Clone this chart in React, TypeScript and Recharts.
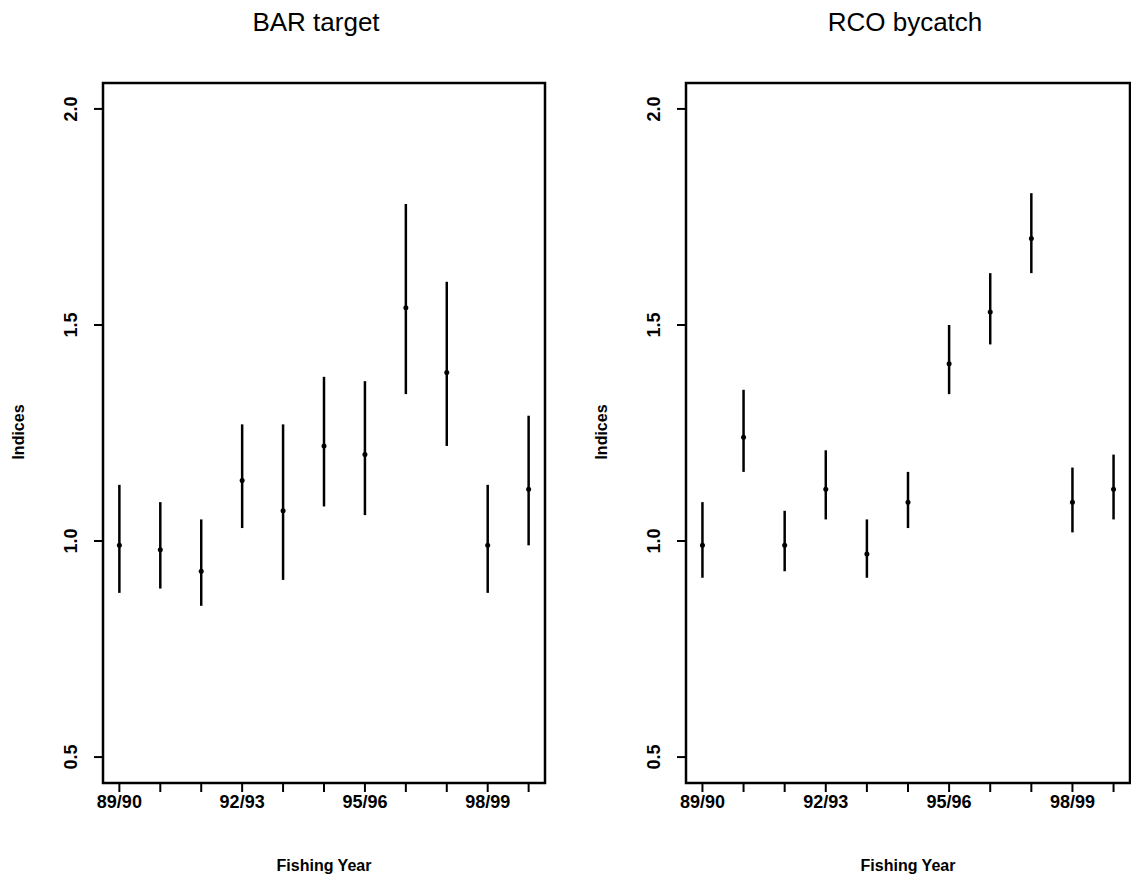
import React from 'react';
import { ScatterChart, Scatter, XAxis, YAxis, ErrorBar, ReferenceArea } from 'recharts';

const YEARS = ['89/90', '90/91', '91/92', '92/93', '93/94', '94/95', '95/96', '96/97', '97/98', '98/99', '99/00'];
const LABELLED_YEARS = ['89/90', '92/93', '95/96', '98/99'];
const Y_TICKS = [0.5, 1.0, 1.5, 2.0];

const BAR_MID = [0.99, 0.98, 0.93, 1.14, 1.07, 1.22, 1.2, 1.54, 1.39, 0.99, 1.12];
const BAR_LOW = [0.88, 0.89, 0.85, 1.03, 0.91, 1.08, 1.06, 1.34, 1.22, 0.88, 0.99];
const BAR_HIGH = [1.13, 1.09, 1.05, 1.27, 1.27, 1.38, 1.37, 1.78, 1.6, 1.13, 1.29];

const RCO_MID = [0.99, 1.24, 0.99, 1.12, 0.97, 1.09, 1.41, 1.53, 1.7, 1.09, 1.12];
const RCO_LOW = [0.915, 1.16, 0.93, 1.05, 0.915, 1.03, 1.34, 1.455, 1.62, 1.02, 1.05];
const RCO_HIGH = [1.09, 1.35, 1.07, 1.21, 1.05, 1.16, 1.5, 1.62, 1.805, 1.17, 1.2];

const W = 1131;
const H = 880;
const FONT = '"Liberation Sans", Arial, sans-serif';
const BOX_TOP = 83;
const BOX_BOTTOM = 783;
const X_DOMAIN = [0.6, 11.4];
const Y_DOMAIN = [0.44, 2.06];

const YTick = (props: any) => {
  const { x, y, payload } = props;
  const bx = x - 17;
  return (
    <text x={bx} y={y} transform={`rotate(-90 ${bx} ${y})`} textAnchor="middle" fontSize={18} fontWeight="bold" fontFamily={FONT} fill="#000">
      {payload.value.toFixed(1)}
    </text>
  );
};

const Dot = (props: any) => <circle cx={props.cx} cy={props.cy} r={2.5} fill="#000" />;

function Panel({ title, mid, low, high, boxLeft, boxRight, titleX }: any) {
  const data = YEARS.map((yr, i) => ({ x: i + 1, year: yr, y: mid[i], err: [mid[i] - low[i], high[i] - mid[i]] }));
  const yw = 40;
  const xh = 40;
  const boxMid = (boxLeft + boxRight) / 2;
  return (
    <>
      <div style={{ position: 'absolute', left: titleX - 150, top: 7, width: 300, textAlign: 'center', fontFamily: FONT, fontSize: 26 }}>
        {title}
      </div>
      <div style={{ position: 'absolute', left: boxMid - 100, top: 857, width: 200, textAlign: 'center', fontFamily: FONT, fontSize: 16, fontWeight: 'bold' }}>
        Fishing Year
      </div>
      <div
        style={{
          position: 'absolute', left: boxLeft - 84 - 50, top: 432 - 10, width: 100, textAlign: 'center',
          fontFamily: FONT, fontSize: 16, fontWeight: 'bold', lineHeight: '20px', transform: 'rotate(-90deg)',
        }}
      >
        Indices
      </div>
      <div style={{ position: 'absolute', left: 0, top: 0 }}>
        <ScatterChart
          width={W}
          height={H}
          margin={{ left: boxLeft - yw, right: W - boxRight, top: BOX_TOP, bottom: H - BOX_BOTTOM - xh }}
        >
          <XAxis
            type="number"
            dataKey="x"
            domain={X_DOMAIN}
            ticks={YEARS.map((_, i) => i + 1)}
            tickFormatter={(v: number) => (LABELLED_YEARS.includes(YEARS[v - 1]) ? YEARS[v - 1] : '')}
            height={xh}
            axisLine={false}
            tickSize={9}
            tickMargin={3}
            tickLine={{ stroke: '#000', strokeWidth: 2 }}
            tick={{ fill: '#000', fontSize: 18, fontWeight: 'bold', fontFamily: FONT }}
            interval={0}
            allowDataOverflow
          />
          <YAxis
            type="number"
            dataKey="y"
            domain={Y_DOMAIN}
            ticks={Y_TICKS}
            width={yw}
            axisLine={false}
            tickSize={9}
            tickMargin={0}
            tickLine={{ stroke: '#000', strokeWidth: 2 }}
            tick={<YTick />}
            interval={0}
            allowDataOverflow
          />
          <ReferenceArea
            x1={X_DOMAIN[0]}
            x2={X_DOMAIN[1]}
            y1={Y_DOMAIN[0]}
            y2={Y_DOMAIN[1]}
            fill="none"
            stroke="#000"
            strokeWidth={2.5}
            ifOverflow="visible"
          />
          <Scatter data={data} shape={<Dot />} isAnimationActive={false}>
            <ErrorBar dataKey="err" direction="y" width={0} stroke="#000" strokeWidth={2.5} isAnimationActive={false} />
          </Scatter>
        </ScatterChart>
      </div>
    </>
  );
}

export default function App() {
  return (
    <div style={{ position: 'absolute', left: 0, top: 0, width: W, height: H, background: '#fff', overflow: 'hidden' }}>
      <Panel title="BAR target" mid={BAR_MID} low={BAR_LOW} high={BAR_HIGH} boxLeft={103} boxRight={545} titleX={316} />
      <Panel title="RCO bycatch" mid={RCO_MID} low={RCO_LOW} high={RCO_HIGH} boxLeft={686} boxRight={1130} titleX={905} />
    </div>
  );
}
